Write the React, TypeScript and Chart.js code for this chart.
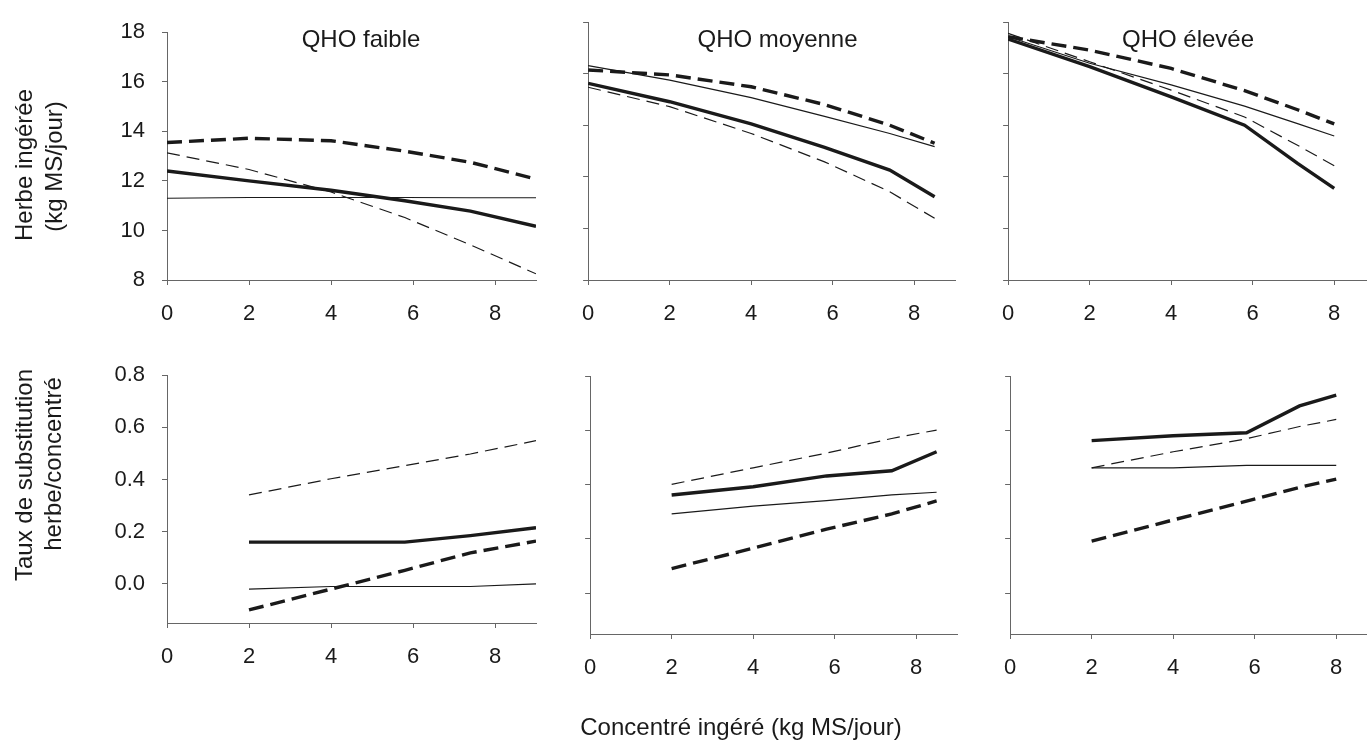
import React, { useEffect, useRef } from 'react';
import { Chart, registerables } from 'chart.js';

Chart.register(...registerables);

// ---------------- DATA ----------------
// Herbe ingérée (kg MS/jour) vs concentré ingéré
const xHerbeFaible = [0, 2, 4, 5.8, 7.4, 9];
const herbeFaibleA = [12.4, 12.0, 11.62, 11.2, 10.78, 10.17];
const herbeFaibleB = [11.3, 11.33, 11.33, 11.33, 11.32, 11.32];
const herbeFaibleC = [13.55, 13.72, 13.62, 13.2, 12.75, 12.07];
const herbeFaibleD = [13.13, 12.46, 11.55, 10.52, 9.42, 8.25];

const xHerbeMoyenne = [0, 2, 4, 5.8, 7.4, 8.5];
const herbeMoyenneA = [15.62, 14.91, 14.05, 13.14, 12.26, 11.23];
const herbeMoyenneB = [16.31, 15.75, 15.07, 14.34, 13.68, 13.17];
const herbeMoyenneC = [16.14, 15.95, 15.49, 14.8, 14.0, 13.3];
const herbeMoyenneD = [15.47, 14.72, 13.68, 12.58, 11.42, 10.39];

const xHerbeElevee = [0, 2, 4, 5.8, 7.1, 8];
const herbeEleveeA = [17.34, 16.27, 15.1, 14.0, 12.52, 11.55];
const herbeEleveeB = [17.43, 16.4, 15.56, 14.74, 14.06, 13.58];
const herbeEleveeC = [17.43, 16.91, 16.2, 15.34, 14.6, 14.05];
const herbeEleveeD = [17.56, 16.46, 15.36, 14.32, 13.22, 12.43];

// Taux de substitution herbe/concentré
const xTauxFaible = [2, 4, 5.8, 7.4, 9];
const tauxFaibleA = [0.16, 0.16, 0.16, 0.185, 0.215];
const tauxFaibleB = [-0.02, -0.01, -0.01, -0.01, 0.0];
const tauxFaibleC = [-0.1, -0.02, 0.052, 0.119, 0.164];
const tauxFaibleD = [0.341, 0.403, 0.453, 0.498, 0.549];

const xTauxMoyenne = [2, 4, 5.8, 7.4, 8.5];
const tauxMoyenneA = [0.362, 0.392, 0.432, 0.451, 0.521];
const tauxMoyenneB = [0.292, 0.321, 0.341, 0.362, 0.372];
const tauxMoyenneC = [0.091, 0.166, 0.236, 0.292, 0.34];
const tauxMoyenneD = [0.401, 0.462, 0.516, 0.57, 0.601];

const xTauxElevee = [2, 4, 5.8, 7.1, 8];
const tauxEleveeA = [0.562, 0.58, 0.591, 0.69, 0.73];
const tauxEleveeB = [0.462, 0.462, 0.471, 0.471, 0.471];
const tauxEleveeC = [0.192, 0.27, 0.339, 0.39, 0.42];
const tauxEleveeD = [0.462, 0.521, 0.569, 0.614, 0.64];

const panelTitles = ['QHO faible', 'QHO moyenne', 'QHO élevée'];
const yTitleHerbe = ['Herbe ingérée', '(kg MS/jour)'];
const yTitleTaux = ['Taux de substitution', 'herbe/concentré'];
const xTitle = 'Concentré ingéré (kg MS/jour)';

// ---------------- STYLE ----------------
const FONT = '"Liberation Sans", Arial, Helvetica, sans-serif';
const INK = '#1a1a1a';
const AXIS = '#666';
const LINE_STYLES = [
  { w: 3.4, dash: [] as number[] },
  { w: 1.2, dash: [] as number[] },
  { w: 3.4, dash: [15, 7] },
  { w: 1.2, dash: [13, 7] },
];

type TextItem = { text: string; x: number; y: number; size: number; align: CanvasTextAlign; rotate?: boolean };

type PanelDef = {
  left: number; top: number; plotW: number; plotH: number; yw: number; xh: number;
  xMax: number; yMin: number; yMax: number; yStep: number; showY: boolean; decimals: number;
  xs: number[]; series: number[][]; texts: TextItem[];
};

const PAD_T = 20;
const PAD_R = 20;

function makeTextPlugin(texts: TextItem[], offX: number, offY: number) {
  return {
    id: 'pageText',
    afterDraw(chart: any) {
      const ctx = chart.ctx as CanvasRenderingContext2D;
      ctx.save();
      ctx.fillStyle = INK;
      for (const t of texts) {
        ctx.font = `${t.size}px ${FONT}`;
        ctx.textAlign = t.align;
        ctx.textBaseline = 'alphabetic';
        ctx.save();
        ctx.translate(t.x - offX, t.y - offY);
        if (t.rotate) ctx.rotate(-Math.PI / 2);
        ctx.fillText(t.text, 0, 0);
        ctx.restore();
      }
      ctx.restore();
    },
  };
}

function Panel({ def }: { def: PanelDef }) {
  const ref = useRef<HTMLCanvasElement>(null);
  const cLeft = def.left - def.yw;
  const cTop = def.top - PAD_T;
  const cW = def.yw + def.plotW + PAD_R;
  const cH = PAD_T + def.plotH + def.xh;

  useEffect(() => {
    if (!ref.current) return;
    const datasets = def.series.map((vals, i) => ({
      data: vals.map((v, j) => ({ x: def.xs[j], y: v })),
      borderColor: INK,
      borderWidth: LINE_STYLES[i].w,
      borderDash: LINE_STYLES[i].dash,
      pointRadius: 0,
      fill: false,
      tension: 0,
    }));
    const gridOpts = { drawOnChartArea: false, drawTicks: true, tickLength: 5, color: AXIS, lineWidth: 1 };
    const chart = new Chart(ref.current, {
      type: 'line',
      data: { datasets },
      plugins: [makeTextPlugin(def.texts, cLeft, cTop)],
      options: {
        responsive: false,
        animation: false,
        layout: { padding: { top: PAD_T, right: PAD_R, left: 0, bottom: 0 } },
        plugins: { legend: { display: false }, tooltip: { enabled: false } },
        scales: {
          x: {
            type: 'linear',
            min: 0,
            max: def.xMax,
            afterFit: (s: any) => { s.height = def.xh; },
            ticks: {
              stepSize: 2, includeBounds: false, autoSkip: false, maxRotation: 0,
              font: { family: FONT, size: 22 }, color: INK, padding: 16,
              callback: (v: any) => String(v),
            },
            grid: gridOpts,
            border: { display: true, color: AXIS, width: 1 },
          },
          y: {
            type: 'linear',
            min: def.yMin,
            max: def.yMax,
            afterFit: (s: any) => { s.width = def.yw; },
            ticks: {
              display: def.showY, stepSize: def.yStep, includeBounds: false,
              font: { family: FONT, size: 22 }, color: INK, padding: 17,
              callback: (v: any) => Number(v).toFixed(def.decimals),
            },
            grid: gridOpts,
            border: { display: true, color: AXIS, width: 1 },
          },
        },
      } as any,
    });
    return () => chart.destroy();
  }, []);

  return (
    <canvas
      ref={ref}
      width={cW}
      height={cH}
      style={{ position: 'absolute', left: cLeft, top: cTop, width: cW, height: cH }}
    />
  );
}

const TOP_Y = 22, BOT_Y_L = 365, BOT_Y_R = 376, PLOT_H = 258, PLOT_W = 369;

const panels: PanelDef[] = [
  {
    left: 167, top: TOP_Y, plotW: PLOT_W, plotH: PLOT_H, yw: 167, xh: 50,
    xMax: 9, yMin: 8, yMax: 18, yStep: 2, showY: true, decimals: 0,
    xs: xHerbeFaible, series: [herbeFaibleA, herbeFaibleB, herbeFaibleC, herbeFaibleD],
    texts: [
      { text: panelTitles[0], x: 361, y: 46.5, size: 24, align: 'center' },
      { text: yTitleHerbe[0], x: 31.5, y: 165, size: 24, align: 'center', rotate: true },
      { text: yTitleHerbe[1], x: 61.5, y: 166.5, size: 24, align: 'center', rotate: true },
    ],
  },
  {
    left: 586, top: TOP_Y, plotW: PLOT_W, plotH: PLOT_H, yw: 20, xh: 50,
    xMax: 9, yMin: 8, yMax: 18, yStep: 2, showY: false, decimals: 0,
    xs: xHerbeMoyenne, series: [herbeMoyenneA, herbeMoyenneB, herbeMoyenneC, herbeMoyenneD],
    texts: [{ text: panelTitles[1], x: 777.5, y: 46.5, size: 24, align: 'center' }],
  },
  {
    left: 1006, top: TOP_Y, plotW: PLOT_W, plotH: PLOT_H, yw: 20, xh: 50,
    xMax: 9, yMin: 8, yMax: 18, yStep: 2, showY: false, decimals: 0,
    xs: xHerbeElevee, series: [herbeEleveeA, herbeEleveeB, herbeEleveeC, herbeEleveeD],
    texts: [{ text: panelTitles[2], x: 1188, y: 46.5, size: 24, align: 'center' }],
  },
  {
    left: 167, top: BOT_Y_L, plotW: PLOT_W, plotH: PLOT_H, yw: 167, xh: 60,
    xMax: 9, yMin: -0.15, yMax: 0.8, yStep: 0.2, showY: true, decimals: 1,
    xs: xTauxFaible, series: [tauxFaibleA, tauxFaibleB, tauxFaibleC, tauxFaibleD],
    texts: [
      { text: yTitleTaux[0], x: 31.5, y: 475, size: 24, align: 'center', rotate: true },
      { text: yTitleTaux[1], x: 61, y: 464, size: 24, align: 'center', rotate: true },
    ],
  },
  {
    left: 588, top: BOT_Y_R, plotW: PLOT_W, plotH: PLOT_H, yw: 20, xh: 106,
    xMax: 9, yMin: -0.15, yMax: 0.8, yStep: 0.2, showY: false, decimals: 1,
    xs: xTauxMoyenne, series: [tauxMoyenneA, tauxMoyenneB, tauxMoyenneC, tauxMoyenneD],
    texts: [{ text: xTitle, x: 741, y: 735, size: 24, align: 'center' }],
  },
  {
    left: 1008, top: BOT_Y_R, plotW: PLOT_W, plotH: PLOT_H, yw: 20, xh: 60,
    xMax: 9, yMin: -0.15, yMax: 0.8, yStep: 0.2, showY: false, decimals: 1,
    xs: xTauxElevee, series: [tauxEleveeA, tauxEleveeB, tauxEleveeC, tauxEleveeD],
    texts: [],
  },
];

export default function App() {
  return (
    <div
      style={{
        position: 'fixed', left: 0, top: 0, width: 1367, height: 740,
        overflow: 'hidden', background: '#fff',
      }}
    >
      {panels.map((p, i) => (
        <Panel key={i} def={p} />
      ))}
    </div>
  );
}
